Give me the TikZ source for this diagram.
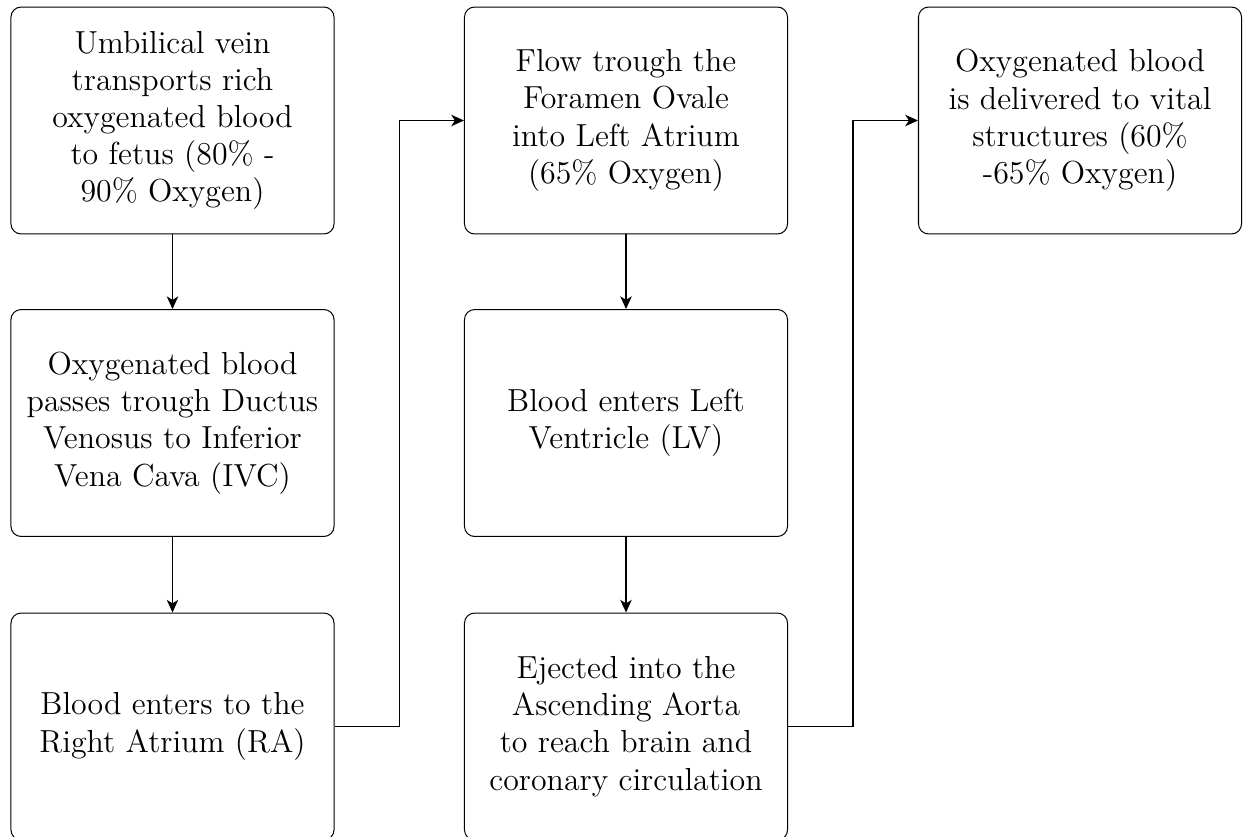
\documentclass[tikz,border=0pt]{standalone}
\usetikzlibrary{arrows.meta}
\begin{document}
\begin{tikzpicture}[x=0.3953pt,y=-0.3953pt,
  stepbox/.style={draw, rounded corners=4pt, minimum width=127.7pt,
    minimum height=89.7pt, align=center, inner sep=2pt,
    font=\fontsize{12.6}{14.7}\selectfont, line width=0.4pt},
  flow/.style={-{Stealth[length=5pt,width=4.5pt,inset=1.4pt]}, line width=0.7pt}]
\useasboundingbox (0,0) rectangle (1248,836);

% first column
\node[stepbox] (uv) at (172.5,120.5) {Umbilical vein\\transports rich\\oxygenated blood\\to fetus (80\% -\\90\% Oxygen)};
\node[stepbox] (dv) at (172.5,423) {Oxygenated blood\\passes trough Ductus\\Venosus to Inferior\\Vena Cava (IVC)};
\node[stepbox] (ra) at (172.5,726.5) {Blood enters to the\\Right Atrium (RA)};

% second column
\node[stepbox] (fo) at (626,120.5) {Flow trough the\\Foramen Ovale\\into Left Atrium\\(65\% Oxygen)};
\node[stepbox] (lv) at (626,423) {Blood enters Left\\Ventricle (LV)};
\node[stepbox] (ao) at (626,726.5) {Ejected into the\\Ascending Aorta\\to reach brain and\\coronary circulation};

% third column
\node[stepbox] (vs) at (1080,120.5) {Oxygenated blood\\is delivered to vital\\structures (60\%\\-65\% Oxygen)};

% connectors
\draw[flow] (uv) -- (dv);
\draw[flow] (dv) -- (ra);
\draw[flow] (fo) -- (lv);
\draw[flow] (lv) -- (ao);
\draw[flow] (ra.east) -- ++(65,0) |- (fo.west);
\draw[flow] (ao.east) -- ++(65,0) |- (vs.west);
\end{tikzpicture}
\end{document}
